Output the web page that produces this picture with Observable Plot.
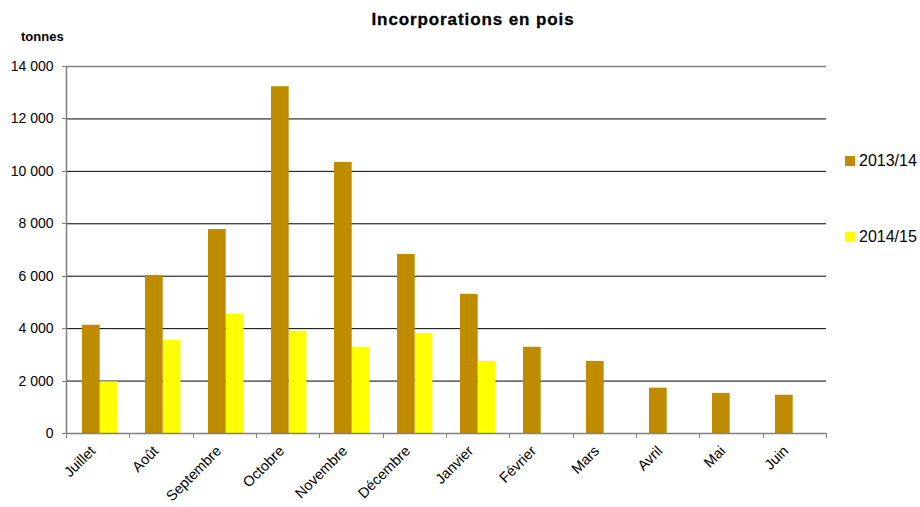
<!DOCTYPE html>
<html>
<head>
<meta charset="utf-8">
<script src="https://cdn.jsdelivr.net/npm/d3@7"></script>
<script src="https://cdn.jsdelivr.net/npm/@observablehq/plot@0.6"></script>
<style>
  html, body { margin: 0; padding: 0; background: #fff; }
  body { font-family: "Liberation Sans", Arial, sans-serif; }
  #wrap { position: relative; width: 920px; height: 507px; overflow: hidden; }
  #chart { position: absolute; left: 0; top: 0; }
  #title { position: absolute; left: 0; width: 946px; top: 10px; text-align: center; font-weight: bold; font-size: 17px; letter-spacing: 0.9px; color: #000; -webkit-text-stroke: 0.3px #000; }
  #ylabel { position: absolute; left: 21px; top: 29px; font-weight: bold; font-size: 13px; color: #000; }
  .leg { position: absolute; left: 845px; font-size: 16px; color: #000; display: flex; align-items: center; white-space: nowrap; }
  .leg .sw { width: 10px; height: 10px; margin-right: 4px; }
</style>
</head>
<body>
<div id="wrap">
  <div id="chart"></div>
  <div id="title"></div>
  <div id="ylabel"></div>
</div>
<script>
const chartTitle = "Incorporations en pois";
const yUnit = "tonnes";
const months = ["Juillet", "Août", "Septembre", "Octobre", "Novembre", "Décembre", "Janvier", "Février", "Mars", "Avril", "Mai", "Juin"];
const series = ["2013/14", "2014/15"];
const values1314 = [4130, 6030, 7780, 13230, 10340, 6830, 5310, 3290, 2750, 1730, 1530, 1460];
const values1415 = [1970, 3550, 4550, 3900, 3290, 3820, 2750, null, null, null, null, null];
const colors = ["#BF8C00", "#FFFF00"];
const yTicks = [0, 2000, 4000, 6000, 8000, 10000, 12000, 14000];

const data1 = months.map((m, i) => ({month: m, value: values1314[i]}));
const data2 = months.map((m, i) => ({month: m, value: values1415[i]})).filter(d => d.value != null);

const fmt = d => d3.format(",")(d).replace(/,/g, "\u00a0");

function frameMarks(index, scales, values, dimensions) {
  const {width, height, marginLeft, marginRight, marginBottom} = dimensions;
  const g = d3.create("svg:g");
  const n = months.length;
  const step = (width - marginLeft - marginRight) / n;
  const yb = height - marginBottom;
  g.append("line")
    .attr("x1", marginLeft + 0.5).attr("x2", marginLeft + 0.5)
    .attr("y1", scales.y(yTicks[0])).attr("y2", scales.y(yTicks[yTicks.length - 1]))
    .attr("stroke", "#808080").attr("stroke-width", 1.5);
  for (const v of yTicks) {
    const y = Math.round(scales.y(v)) + 0.5;
    g.append("line").attr("x1", marginLeft - 4).attr("x2", marginLeft)
      .attr("y1", y).attr("y2", y).attr("stroke", "#808080");
  }
  for (let i = 0; i <= n; i++) {
    const x = Math.round(marginLeft + i * step) + 0.5;
    g.append("line").attr("x1", x).attr("x2", x)
      .attr("y1", yb).attr("y2", yb + 5).attr("stroke", "#808080");
  }
  return g.node();
}

const plot = Plot.plot({
  width: 920,
  height: 507,
  marginLeft: 66,
  marginRight: 94,
  marginTop: 66,
  marginBottom: 74,
  style: {fontFamily: "'Liberation Sans', Arial, sans-serif", fontSize: "14px", color: "#000", background: "transparent"},
  x: {domain: months, padding: 0, tickSize: 0, tickRotate: -45, tickPadding: 8, label: null},
  y: {domain: [0, 14000], ticks: yTicks, tickSize: 0, tickPadding: 13, tickFormat: fmt, label: null},
  marks: [
    Plot.ruleY(yTicks.slice(1, -1), {stroke: "#000", strokeWidth: 1}),
    Plot.ruleY([yTicks[yTicks.length - 1]], {stroke: "#808080", strokeWidth: 1.5}),
    Plot.barY(data1, {x: "month", y: "value", fill: colors[0], insetLeft: 14, insetRight: 31.3}),
    Plot.barY(data2, {x: "month", y: "value", fill: colors[1], insetLeft: 32, insetRight: 13.6}),
    Plot.ruleY([0], {stroke: "#808080", strokeWidth: 1.5}),
    frameMarks
  ]
});
plot.querySelectorAll("text").forEach(t => {
  if (months.includes(t.textContent)) {
    t.style.fontSize = "14.5px";
    t.setAttribute("dx", "-10");
  }
});
document.getElementById("chart").appendChild(plot);
document.getElementById("title").textContent = chartTitle;
document.getElementById("ylabel").textContent = yUnit;

const wrap = document.getElementById("wrap");
const legTops = [152, 228];
series.forEach((s, i) => {
  const el = document.createElement("div");
  el.className = "leg";
  el.style.top = legTops[i] + "px";
  const sw = document.createElement("div");
  sw.className = "sw";
  sw.style.background = colors[i];
  const t = document.createElement("span");
  t.textContent = s;
  el.appendChild(sw);
  el.appendChild(t);
  wrap.appendChild(el);
});
</script>
</body>
</html>
